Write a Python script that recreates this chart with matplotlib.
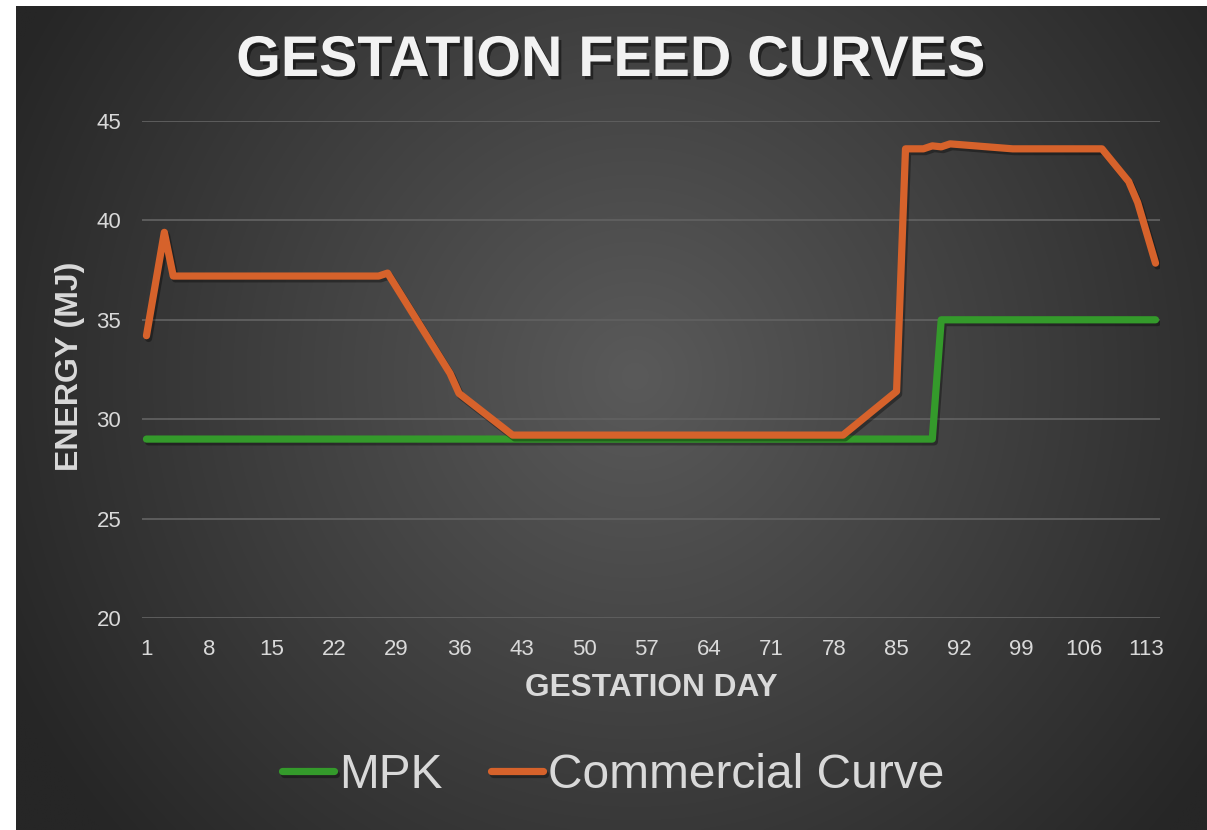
import matplotlib
matplotlib.use("Agg")
import matplotlib.pyplot as plt
import matplotlib.patheffects as pe
import numpy as np

plt.rcParams["font.family"] = ["Liberation Sans", "DejaVu Sans"]

# data (days 1..114 on a category axis)
mpk_days = [1, 89, 90, 114]
mpk_energy = [29.0, 29.0, 35.0, 35.0]

comm_days = [1, 3, 4, 27, 28, 35, 36, 42, 79, 85, 86, 88, 89, 90, 91, 98, 108, 111, 112, 114]
comm_energy = [34.2, 39.4, 37.2, 37.2, 37.35, 32.3, 31.3, 29.2, 29.2, 31.4, 43.6, 43.6,
               43.75, 43.7, 43.85, 43.6, 43.6, 41.95, 40.9, 37.85]

x_ticks = list(range(1, 114, 7))
y_ticks = [20, 25, 30, 35, 40, 45]

GREEN = "#349a2b"
ORANGE = "#d6622b"
TEXT = "#d9d9d9"

W, H = 1207, 830
fig = plt.figure(figsize=(W / 100, H / 100), dpi=100)
fig.patch.set_facecolor("white")

# chart background, radial gradient like the Excel style
bg = fig.add_axes([16 / W, 0, 1 - 16 / W, 1 - 6 / H])
bg.set_axis_off()
yy, xx = np.mgrid[0:1:400j, 0:1:600j]
r = np.sqrt(((xx - 0.52) * 1.45) ** 2 + ((yy - 0.45) * 1.0) ** 2)
r = np.clip(r / 0.85, 0, 1)
shade = (0x5a - (0x5a - 0x26) * r) / 255.0
bg.imshow(np.dstack([shade, shade, shade]), aspect="auto", extent=[0, 1, 0, 1],
          interpolation="bilinear")

ax = fig.add_axes([142 / W, 1 - 618 / H, 1018 / W, 497 / H])
ax.patch.set_alpha(0)
for s in ax.spines.values():
    s.set_visible(False)

shadow = [pe.SimpleLineShadow(offset=(1.5, -2), shadow_color="black", alpha=0.35), pe.Normal()]
ax.plot(mpk_days, mpk_energy, color=GREEN, lw=5.2, solid_capstyle="round",
        solid_joinstyle="round", label="MPK", path_effects=shadow, zorder=3)
ax.plot(comm_days, comm_energy, color=ORANGE, lw=5.2, solid_capstyle="round",
        solid_joinstyle="round", label="Commercial Curve", path_effects=shadow, zorder=4)

ax.set_xlim(0.5, 114.5)
ax.set_ylim(20, 45)
ax.set_xticks(x_ticks)
ax.set_yticks(y_ticks)
ax.tick_params(axis="both", length=0, labelsize=16, labelcolor=TEXT, pad=15)
ax.grid(axis="y", color="#606060", lw=1.3)
ax.set_axisbelow(True)

fig.text(611 / W, 1 - 61 / H, "GESTATION FEED CURVES", ha="center", va="center",
         fontsize=41.3, fontweight="bold", color="#f2f2f2",
         path_effects=[pe.withSimplePatchShadow(offset=(2, -2.5), shadow_rgbFace="black", alpha=0.45)])
fig.text(651 / W, 1 - 688 / H, "GESTATION DAY", ha="center", va="center",
         fontsize=22.8, fontweight="bold", color=TEXT)
fig.text(70 / W, 1 - 366 / H, "ENERGY (MJ)", ha="center", va="center", rotation=90,
         fontsize=23, fontweight="bold", color=TEXT)

leg = fig.legend(loc="center", bbox_to_anchor=(613 / W, 1 - 775 / H), ncol=2, frameon=False,
                 fontsize=34.5, handlelength=1.1, handletextpad=0.1, columnspacing=1.0,
                 labelcolor=TEXT)
for line in leg.get_lines():
    line.set_linewidth(5.2)
    line.set_solid_capstyle("round")

plt.savefig("out.png", dpi=100)
plt.close()
